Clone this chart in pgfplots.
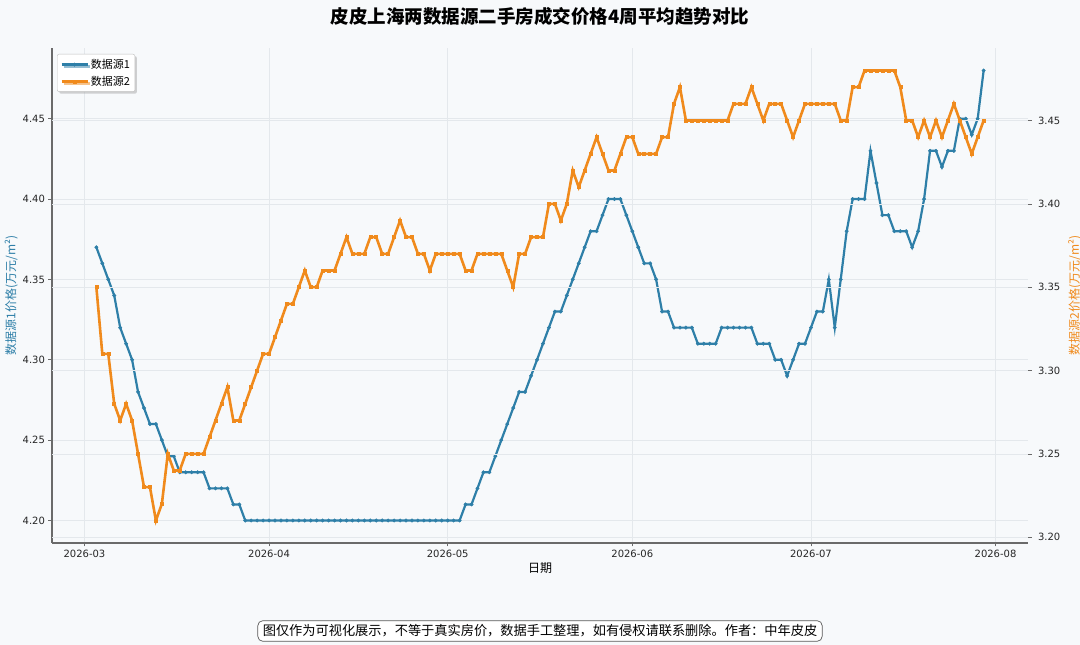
\documentclass[border=0pt]{standalone}
\usepackage{pgfplots}
\pgfplotsset{compat=1.18}
\usepackage{pgfplotstable}
\usepackage{fontspec}
\setmainfont{DejaVu Sans}
\newfontfamily\cjk{Noto Sans CJK SC}
\usetikzlibrary{shadows}
\definecolor{bgc}{HTML}{F7F9FB}
\definecolor{c1}{HTML}{2E7FA8}
\definecolor{c2}{HTML}{F08A1C}
\definecolor{gridc}{HTML}{E4E8EC}
\definecolor{spine}{HTML}{6A6A6A}

\pgfplotstableread{
day v
2 4.37
3 4.36
4 4.35
5 4.34
6 4.32
7 4.31
8 4.30
9 4.28
10 4.27
11 4.26
12 4.26
13 4.25
14 4.24
15 4.24
16 4.23
17 4.23
18 4.23
19 4.23
20 4.23
21 4.22
22 4.22
23 4.22
24 4.22
25 4.21
26 4.21
27 4.20
28 4.20
29 4.20
30 4.20
31 4.20
32 4.20
33 4.20
34 4.20
35 4.20
36 4.20
37 4.20
38 4.20
39 4.20
40 4.20
41 4.20
42 4.20
43 4.20
44 4.20
45 4.20
46 4.20
47 4.20
48 4.20
49 4.20
50 4.20
51 4.20
52 4.20
53 4.20
54 4.20
55 4.20
56 4.20
57 4.20
58 4.20
59 4.20
60 4.20
61 4.20
62 4.20
63 4.20
64 4.21
65 4.21
66 4.22
67 4.23
68 4.23
69 4.24
70 4.25
71 4.26
72 4.27
73 4.28
74 4.28
75 4.29
76 4.30
77 4.31
78 4.32
79 4.33
80 4.33
81 4.34
82 4.35
83 4.36
84 4.37
85 4.38
86 4.38
87 4.39
88 4.40
89 4.40
90 4.40
91 4.39
92 4.38
93 4.37
94 4.36
95 4.36
96 4.35
97 4.33
98 4.33
99 4.32
100 4.32
101 4.32
102 4.32
103 4.31
104 4.31
105 4.31
106 4.31
107 4.32
108 4.32
109 4.32
110 4.32
111 4.32
112 4.32
113 4.31
114 4.31
115 4.31
116 4.30
117 4.30
118 4.29
119 4.30
120 4.31
121 4.31
122 4.32
123 4.33
124 4.33
125 4.35
126 4.32
127 4.35
128 4.38
129 4.40
130 4.40
131 4.40
132 4.43
133 4.41
134 4.39
135 4.39
136 4.38
137 4.38
138 4.38
139 4.37
140 4.38
141 4.40
142 4.43
143 4.43
144 4.42
145 4.43
146 4.43
147 4.45
148 4.45
149 4.44
150 4.45
151 4.48
}\dataA

\pgfplotstableread{
day v
2 3.35
3 3.31
4 3.31
5 3.28
6 3.27
7 3.28
8 3.27
9 3.25
10 3.23
11 3.23
12 3.21
13 3.22
14 3.25
15 3.24
16 3.24
17 3.25
18 3.25
19 3.25
20 3.25
21 3.26
22 3.27
23 3.28
24 3.29
25 3.27
26 3.27
27 3.28
28 3.29
29 3.30
30 3.31
31 3.31
32 3.32
33 3.33
34 3.34
35 3.34
36 3.35
37 3.36
38 3.35
39 3.35
40 3.36
41 3.36
42 3.36
43 3.37
44 3.38
45 3.37
46 3.37
47 3.37
48 3.38
49 3.38
50 3.37
51 3.37
52 3.38
53 3.39
54 3.38
55 3.38
56 3.37
57 3.37
58 3.36
59 3.37
60 3.37
61 3.37
62 3.37
63 3.37
64 3.36
65 3.36
66 3.37
67 3.37
68 3.37
69 3.37
70 3.37
71 3.36
72 3.35
73 3.37
74 3.37
75 3.38
76 3.38
77 3.38
78 3.40
79 3.40
80 3.39
81 3.40
82 3.42
83 3.41
84 3.42
85 3.43
86 3.44
87 3.43
88 3.42
89 3.42
90 3.43
91 3.44
92 3.44
93 3.43
94 3.43
95 3.43
96 3.43
97 3.44
98 3.44
99 3.46
100 3.47
101 3.45
102 3.45
103 3.45
104 3.45
105 3.45
106 3.45
107 3.45
108 3.45
109 3.46
110 3.46
111 3.46
112 3.47
113 3.46
114 3.45
115 3.46
116 3.46
117 3.46
118 3.45
119 3.44
120 3.45
121 3.46
122 3.46
123 3.46
124 3.46
125 3.46
126 3.46
127 3.45
128 3.45
129 3.47
130 3.47
131 3.48
132 3.48
133 3.48
134 3.48
135 3.48
136 3.48
137 3.47
138 3.45
139 3.45
140 3.44
141 3.45
142 3.44
143 3.45
144 3.44
145 3.45
146 3.46
147 3.45
148 3.44
149 3.43
150 3.44
151 3.45
}\dataB

\pgfplotsset{
  common/.style={
    at={(52pt,102pt)}, anchor=south west,
    scale only axis, width=976pt, height=495pt,
    xmin=-5.45, xmax=158.45,
    tick align=outside,
    major tick length=3.5pt,
    tick style={spine, line width=0.6pt},
    tick label style={font=\fontsize{10}{12}\selectfont, color=black!85},
    /pgf/number format/assume math mode=true,
    yticklabel style={/pgf/number format/fixed, /pgf/number format/fixed zerofill, /pgf/number format/precision=2},
    major grid style={gridc, line width=0.6pt},
    legend image code/.code={\draw[mark repeat=2,mark phase=2] plot coordinates {(0pt,0pt) (13pt,0pt) (26pt,0pt)};},
  },
}

\begin{document}
\begin{tikzpicture}
\fill[bgc] (0,0) rectangle (1080pt,645pt);
\useasboundingbox (0,0) rectangle (1080pt,645pt);

\begin{axis}[common,
  ymin=4.186, ymax=4.494,
  axis x line*=bottom, axis y line*=left,
  axis line style={spine, line width=1.1pt},
  xtick={0,31,61,92,122,153},
  xticklabels={2026-03,2026-04,2026-05,2026-06,2026-07,2026-08},
  ytick={4.20,4.25,4.30,4.35,4.40,4.45},
  xmajorgrids, ymajorgrids,
  xlabel={\cjk\fontsize{12}{14}\selectfont 日期},
  xlabel style={yshift=2pt},
  ylabel={\cjk\fontsize{12}{14}\selectfont\color{c1} 数据源1价格(万元/m²)},
  ylabel style={yshift=-2pt},
]
\addplot[c1, line width=2.2pt, mark=*, mark size=1.7pt, mark options={solid, fill=c1, draw=c1, line width=0.5pt}] table[x=day, y=v] {\dataA};
\end{axis}

\begin{axis}[common,
  ymin=3.1965, ymax=3.4935,
  axis x line=none, axis y line*=right,
  y axis line style={draw=none},
  ytick={3.20,3.25,3.30,3.35,3.40,3.45},
  ymajorgrids,
  yticklabel style={xshift=3pt},
  ylabel={\cjk\fontsize{12}{14}\selectfont\color{c2} 数据源2价格(万元/m²)},
  ylabel style={yshift=-1pt},
  legend style={at={(0,1)}, anchor=north west, xshift=5pt, yshift=-6pt,
    fill=white, draw=black!25, rounded corners=2pt,
    drop shadow={shadow xshift=2pt, shadow yshift=-2pt, fill=black!35},
    font=\cjk\fontsize{11}{13}\selectfont, row sep=2pt,
    inner xsep=3pt, inner ysep=3pt},
  legend cell align=left,
]
\addlegendimage{c1, line width=2.2pt, mark=*, mark size=1.7pt, mark options={solid, fill=c1, draw=c1, line width=0.5pt}}
\addlegendentry{数据源1}
\addplot[c2, line width=2.6pt, mark=square*, mark size=1.5pt, mark options={solid, fill=c2, draw=c2, line width=0.5pt}] table[x=day, y=v] {\dataB};
\addlegendentry{数据源2}
\end{axis}

\node[font=\cjk\bfseries\fontsize{18.5}{20}\selectfont] at (540pt,629pt) {皮皮上海两数据源二手房成交价格4周平均趋势对比};
\node[font=\cjk\fontsize{13.2}{15}\selectfont, draw=black!65, rounded corners=5pt, fill=white, inner xsep=5pt, inner ysep=4pt, line width=0.7pt] at (540pt,14pt) {图仅作为可视化展示，不等于真实房价，数据手工整理，如有侵权请联系删除。作者：中年皮皮};
\end{tikzpicture}
\end{document}
